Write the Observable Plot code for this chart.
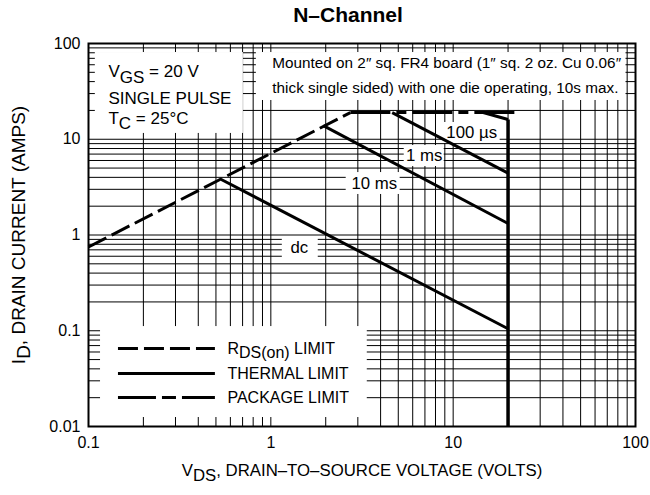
<!DOCTYPE html>
<html><head><meta charset="utf-8">
<script src="https://cdn.jsdelivr.net/npm/d3@7"></script>
<script src="https://cdn.jsdelivr.net/npm/@observablehq/plot@0.6"></script>
<style>
body{margin:0;background:#fff;}
#title{height:28px;width:650px;box-sizing:border-box;padding-left:46px;text-align:center;font-family:'Liberation Sans',Arial,sans-serif;font-weight:bold;font-size:21px;line-height:30px;}
</style></head><body>
<div id="title">N–Channel</div>
<div id="chart"></div>
<script>
// ---- data ----
const xTickValues = [0.1, 1, 10, 100];
const xTickLabels = ["0.1", "1", "10", "100"];
const yTickValues = [0.01, 0.1, 1, 10, 100];
const yTickLabels = ["0.01", "0.1", "1", "10", "100"];
const mantissas = [1, 2, 3, 4, 5, 6, 7, 8, 9];

// RDS(on) limit
const rdsV = [0.1, 2.73];
const rdsI = [0.75, 19];
// package limit
const pkgV = [2.73, 21.9];
const pkgI = [19, 19];
// thermal limits
const us100V = [14.6, 20];
const us100I = [19, 16.1];
const ms1V = [4.63, 20];
const ms1I = [19, 4.42];
const ms10V = [1.94, 20];
const ms10I = [13.9, 1.32];
const dcV = [0.535, 20];
const dcI = [3.8, 0.105];
// maximum VDS
const vmaxV = [20, 20];
const vmaxI = [0.01, 16.1];

const curveLabels = ["100 µs", "1 ms", "10 ms", "dc"];
const legendLabels = ["R_{DS(on)} LIMIT", "THERMAL LIMIT", "PACKAGE LIMIT"];
const conditionLines = ["V_{GS} = 20 V", "SINGLE PULSE", "T_{C} = 25°C"];
const noteLines = ["Mounted on 2″ sq. FR4 board (1″ sq. 2 oz. Cu 0.06″", "thick single sided) with one die operating, 10s max."];
const xLabel = "V_{DS}, DRAIN–TO–SOURCE VOLTAGE (VOLTS)";
const yLabel = "I_{D}, DRAIN CURRENT (AMPS)";

const FONT = "'Liberation Sans', Arial, Helvetica, sans-serif";

const pts = (V, I) => V.map((v, k) => ({v, i: I[k]}));
const xGrid = [0.1, 1, 10].flatMap(d => mantissas.map(m => m * d)).concat([100]);
const yGrid = [0.01, 0.1, 1, 10].flatMap(d => mantissas.map(m => m * d)).concat([100]);

const lineStyle = {x: "v", y: "i", stroke: "black", strokeWidth: 3, strokeLinecap: "butt", strokeLinejoin: "miter"};

const chart = Plot.plot({
  width: 650,
  height: 467,
  marginTop: 15,
  marginLeft: 88,
  marginRight: 15,
  marginBottom: 69,
  style: {fontFamily: FONT, fontSize: "16px", color: "black", background: "white", overflow: "visible"},
  x: {type: "log", domain: [0.1, 100], ticks: xTickValues, tickFormat: d => xTickLabels[xTickValues.indexOf(d)], tickSize: 0, tickPadding: 10, label: null},
  y: {type: "log", domain: [0.01, 100], ticks: yTickValues, tickFormat: d => yTickLabels[yTickValues.indexOf(d)], tickSize: 0, tickPadding: 8, label: null},
  marks: [
    Plot.ruleX(xGrid, {stroke: "black", strokeWidth: 1, strokeOpacity: 1}),
    Plot.ruleY(yGrid, {stroke: "black", strokeWidth: 1, strokeOpacity: 1}),
    // white annotation boxes
    Plot.rect([
      {x1: 0.109, x2: 0.707, y1: 11.5, y2: 80.5},
      {x1: 0.833, x2: 88.7, y1: 25.4, y2: 80.5},
      {x1: 8.82, x2: 18.1, y1: 9.03, y2: 14.96},
      {x1: 5.39, x2: 8.93, y1: 5.19, y2: 8.6},
      {x1: 2.59, x2: 5.12, y1: 2.65, y2: 4.49},
      {x1: 1.156, x2: 1.82, y1: 0.58, y2: 0.955},
      {x1: 0.1164, x2: 3.38, y1: 0.01241, y2: 0.1106}
    ], {x1: "x1", x2: "x2", y1: "y1", y2: "y2", fill: "white"}),
    Plot.frame({stroke: "black", strokeWidth: 2}),
    // curves
    Plot.line(pts(rdsV, rdsI), {...lineStyle, strokeDasharray: "20,6"}),
    Plot.line(pts(pkgV, pkgI), {...lineStyle, strokeDasharray: "40,6,10,6"}),
    Plot.line(pts(us100V, us100I), lineStyle),
    Plot.line(pts(ms1V, ms1I), lineStyle),
    Plot.line(pts(ms10V, ms10I), lineStyle),
    Plot.line(pts(dcV, dcI), lineStyle),
    Plot.line(pts(vmaxV, vmaxI), {...lineStyle, strokeWidth: 3.5}),
    // curve labels
    Plot.text([
      {x: 12.63, y: 11.62, t: curveLabels[0]},
      {x: 6.94, y: 6.76, t: curveLabels[1]},
      {x: 3.69, y: 3.45, t: curveLabels[2]},
      {x: 1.433, y: 0.74, t: curveLabels[3]}
    ], {x: "x", y: "y", text: "t", fontSize: 16.8, fill: "black"}),
    // conditions
    Plot.text([
      {x: 0.1287, y: 50.4, t: conditionLines[0]},
      {x: 0.1287, y: 26.3, t: conditionLines[1]},
      {x: 0.1287, y: 16.3, t: conditionLines[2]}
    ], {x: "x", y: "y", text: "t", textAnchor: "start", fontSize: 17, fill: "black"}),
    Plot.text([
      {x: 1.019, y: 61.8, t: noteLines[0]},
      {x: 1.019, y: 34.3, t: noteLines[1]}
    ], {x: "x", y: "y", text: "t", textAnchor: "start", fontSize: 15.3, fill: "black"}),
    // legend
    Plot.ruleY([0.0653], {x1: 0.146, x2: 0.4966, stroke: "black", strokeWidth: 3, strokeDasharray: "20,6"}),
    Plot.ruleY([0.0358], {x1: 0.146, x2: 0.4966, stroke: "black", strokeWidth: 3}),
    Plot.ruleY([0.0201], {x1: 0.146, x2: 0.4966, stroke: "black", strokeWidth: 3, strokeDasharray: "38,6,14,6"}),
    Plot.text([
      {x: 0.578, y: 0.0653, t: legendLabels[0]},
      {x: 0.578, y: 0.0358, t: legendLabels[1]},
      {x: 0.578, y: 0.0201, t: legendLabels[2]}
    ], {x: "x", y: "y", text: "t", textAnchor: "start", fontSize: 16, fill: "black"}),
    // axis titles
    Plot.text([xLabel], {frameAnchor: "bottom", dy: 49, fontSize: 16.8, fill: "black"}),
    Plot.text([yLabel], {frameAnchor: "left", dx: -70, rotate: -90, textAnchor: "middle", fontSize: 19, fill: "black"})
  ]
});

// subscripts
const ns = "http://www.w3.org/2000/svg";
chart.querySelectorAll("text").forEach(t => {
  if (t.children.length) return;
  const s = t.textContent;
  if (!s.includes("_{")) return;
  t.textContent = "";
  const re = /_\{([^}]*)\}/g;
  let last = 0, m, lowered = false;
  while ((m = re.exec(s))) {
    const before = s.slice(last, m.index);
    if (before) {
      const ts = document.createElementNS(ns, "tspan");
      if (lowered) { ts.setAttribute("dy", "-0.3em"); lowered = false; }
      ts.textContent = before;
      t.appendChild(ts);
    }
    const sub = document.createElementNS(ns, "tspan");
    sub.setAttribute("dy", lowered ? "0" : "0.3em");
    sub.textContent = m[1];
    t.appendChild(sub);
    lowered = true;
    last = re.lastIndex;
  }
  const rest = s.slice(last);
  if (rest) {
    const ts = document.createElementNS(ns, "tspan");
    if (lowered) ts.setAttribute("dy", "-0.3em");
    ts.textContent = rest;
    t.appendChild(ts);
  }
});
document.getElementById("chart").appendChild(chart);
</script></body></html>
